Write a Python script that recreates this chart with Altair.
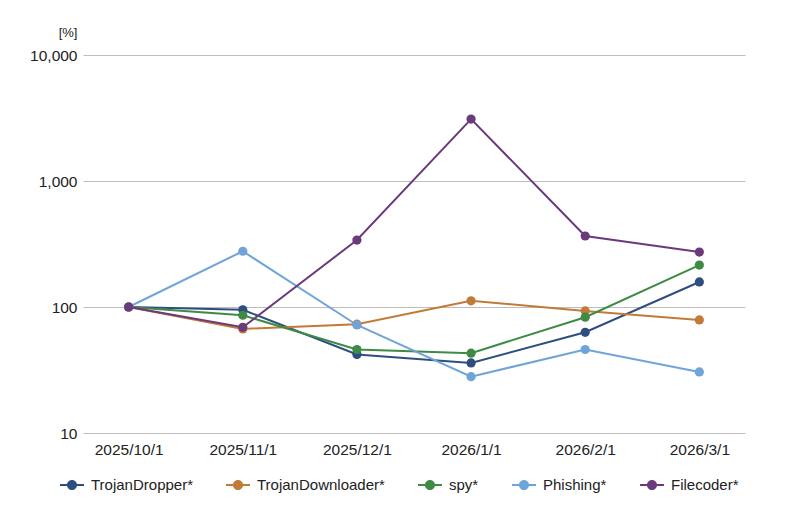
import altair as alt
import pandas as pd

dates = ["2025/10/1", "2025/11/1", "2025/12/1", "2026/1/1", "2026/2/1", "2026/3/1"]
series_names = ["TrojanDropper*", "TrojanDownloader*", "spy*", "Phishing*", "Filecoder*"]
trojan_dropper = [100, 95, 42, 36, 63, 158]
trojan_downloader = [100, 67, 73, 112, 93, 79]
spy = [100, 86, 46, 43, 83, 215]
phishing = [100, 277, 72, 28, 46, 30.5]
filecoder = [100, 69, 340, 3100, 366, 273]
colors = ["#2D4E80", "#C27A38", "#3F8A45", "#6FA4D8", "#6B3A7D"]
y_ticks = [10, 100, 1000, 10000]

values = [trojan_dropper, trojan_downloader, spy, phishing, filecoder]
rows = []
for name, vals in zip(series_names, values):
    for d, v in zip(dates, vals):
        rows.append({"date": d, "series": name, "value": v})
df = pd.DataFrame(rows)

FONT = "Liberation Sans"

x_enc = alt.X("date:O", sort=dates, scale=alt.Scale(type="point", padding=0.4),
              axis=alt.Axis(title=None, labelAngle=0, ticks=False, domain=False, grid=False,
                            labelFontSize=15.5, labelPadding=9, labelColor="#222222", labelFont=FONT))
y_enc = alt.Y("value:Q", scale=alt.Scale(type="log", domain=[10, 10000]),
              axis=alt.Axis(values=y_ticks, format=",", title="[%]", titleAngle=0,
                            titleX=-6, titleY=-23, titleAlign="right", titleBaseline="middle",
                            titleFontSize=13, titleFontWeight="normal", titleColor="#222222", titleFont=FONT,
                            ticks=False, domain=False, grid=True, gridColor="#bdbdbd", gridWidth=1,
                            labelFontSize=15.5, labelPadding=6, labelColor="#222222", labelFont=FONT))

color_scale = alt.Scale(domain=series_names, range=colors)

sym = ("M-1,-0.085L-0.4,-0.085L-0.4,0.085L-1,0.085Z "
       "M0.4,-0.085L1,-0.085L1,0.085L0.4,0.085Z "
       "M-0.42,0A0.42,0.42,0,1,1,0.42,0A0.42,0.42,0,1,1,-0.42,0Z")

legend = alt.Legend(title=None, orient="none", direction="horizontal",
                    legendX=-23, legendY=418, symbolType=sym, symbolSize=576,
                    symbolStrokeWidth=0, symbolOpacity=1,
                    labelFontSize=15, labelFont=FONT, labelColor="#222222",
                    labelOffset=7, columnPadding=33, padding=0)

lines = alt.Chart(df).mark_line(strokeWidth=2).encode(
    x=x_enc, y=y_enc,
    color=alt.Color("series:N", scale=color_scale, sort=series_names, legend=legend),
    detail="series:N",
)
points = alt.Chart(df).mark_point(filled=True, size=85, opacity=1).encode(
    x=x_enc, y=y_enc,
    color=alt.Color("series:N", scale=color_scale, sort=series_names, legend=legend),
)

chart = alt.layer(lines, points).properties(
    width=662, height=378,
    autosize=alt.AutoSizeParams(type="none"),
    padding={"left": 75, "top": 47, "right": 47, "bottom": 79},
    background="white",
).configure_view(stroke=None)

chart.save("out.html", embed_options={"renderer": "svg", "actions": False})
